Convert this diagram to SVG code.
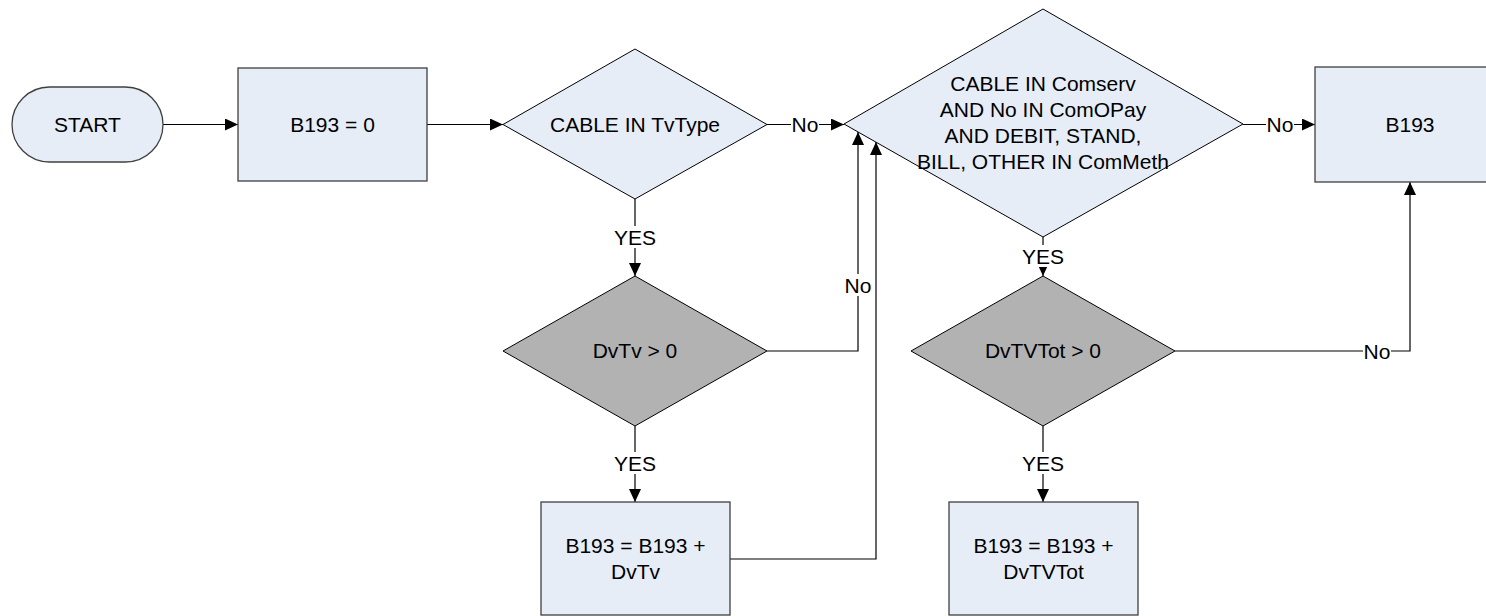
<svg xmlns="http://www.w3.org/2000/svg" width="1486" height="616" viewBox="0 0 1486 616">
<style>
.box{fill:#e6edf7;stroke:#404040;stroke-width:1.3}
.dec{fill:#e6edf7;stroke:#000;stroke-width:1}
.dg{fill:#b2b2b2;stroke:#000;stroke-width:1}
.t{font-family:"Liberation Sans",Arial,sans-serif;font-size:21px;fill:#000;text-anchor:middle}
.c{fill:none;stroke:#000;stroke-width:1.2}
.lb{fill:#fff}
</style>
<defs>
<marker id="ah" markerUnits="userSpaceOnUse" markerWidth="14" markerHeight="12" refX="13" refY="6" orient="auto">
<path d="M0,0 L13,6 L0,12 Z" fill="#000"/>
</marker>
</defs>
<g id="connectors">
<line class="c" x1="163" y1="124.5" x2="238" y2="124.5" marker-end="url(#ah)"/>
<line class="c" x1="427" y1="124.5" x2="503" y2="124.5" marker-end="url(#ah)"/>
<line class="c" x1="767" y1="124.5" x2="844" y2="124.5" marker-end="url(#ah)"/>
<line class="c" x1="635" y1="199" x2="635" y2="276" marker-end="url(#ah)"/>
<polyline class="c" points="767,351 858,351 858,132" marker-end="url(#ah)"/>
<polyline class="c" points="730,559 876,559 876,142" marker-end="url(#ah)"/>
<line class="c" x1="635" y1="426" x2="635" y2="502" marker-end="url(#ah)"/>
<line class="c" x1="1243" y1="124.5" x2="1315" y2="124.5" marker-end="url(#ah)"/>
<line class="c" x1="1043" y1="237" x2="1043" y2="276" marker-end="url(#ah)"/>
<polyline class="c" points="1175,351 1410,351 1410,182" marker-end="url(#ah)"/>
<line class="c" x1="1043" y1="426" x2="1043" y2="502" marker-end="url(#ah)"/>
<rect class="lb" x="791" y="114" width="28" height="22"/>
<text class="t" x="805" y="132">No</text>
<rect class="lb" x="620" y="226" width="30" height="22"/>
<text class="t" x="635" y="245">YES</text>
<rect class="lb" x="844" y="274" width="28" height="22"/>
<text class="t" x="858" y="293">No</text>
<rect class="lb" x="620" y="452" width="30" height="22"/>
<text class="t" x="635" y="471">YES</text>
<rect class="lb" x="1266" y="114" width="28" height="22"/>
<text class="t" x="1280" y="132">No</text>
<rect class="lb" x="1025" y="245" width="36" height="22"/>
<text class="t" x="1043" y="264">YES</text>
<rect class="lb" x="1363" y="340" width="28" height="22"/>
<text class="t" x="1377" y="359">No</text>
<rect class="lb" x="1028" y="452" width="30" height="22"/>
<text class="t" x="1043" y="471">YES</text>
</g>
<g id="start">
<rect class="box" x="12" y="87" width="151" height="75" rx="37.5" ry="37.5"/>
<text class="t" x="87.5" y="132">START</text>
</g>
<g id="init">
<rect class="box" x="238" y="68" width="189" height="113"/>
<text class="t" x="332.5" y="132">B193 = 0</text>
</g>
<g id="cableTvType">
<polygon class="dec" points="503,124.5 635,49 767,124.5 635,199"/>
<text class="t" x="635" y="132">CABLE IN TvType</text>
</g>
<g id="dvtv">
<polygon class="dg" points="503,351 635,276 767,351 635,426"/>
<text class="t" x="635" y="358">DvTv &gt; 0</text>
</g>
<g id="addDvTv">
<rect class="box" x="541" y="502" width="189" height="113"/>
<text class="t" x="635.5" y="553">B193 = B193 +</text>
<text class="t" x="635.5" y="579">DvTv</text>
</g>
<g id="cableComserv">
<polygon class="dec" points="844,124 1043,9 1243,124 1043,237"/>
<text class="t" x="1043" y="91">CABLE IN Comserv</text>
<text class="t" x="1043" y="117">AND No IN ComOPay</text>
<text class="t" x="1043" y="143">AND DEBIT, STAND,</text>
<text class="t" x="1043" y="169">BILL, OTHER IN ComMeth</text>
</g>
<g id="dvtvtot">
<polygon class="dg" points="911,351 1043,276 1175,351 1043,426"/>
<text class="t" x="1043" y="358">DvTVTot &gt; 0</text>
</g>
<g id="addDvTVTot">
<rect class="box" x="949" y="502" width="189" height="113"/>
<text class="t" x="1043.5" y="553">B193 = B193 +</text>
<text class="t" x="1043.5" y="579">DvTVTot</text>
</g>
<g id="result">
<rect class="box" x="1315" y="67" width="190" height="115"/>
<text class="t" x="1410" y="132">B193</text>
</g>
</svg>
